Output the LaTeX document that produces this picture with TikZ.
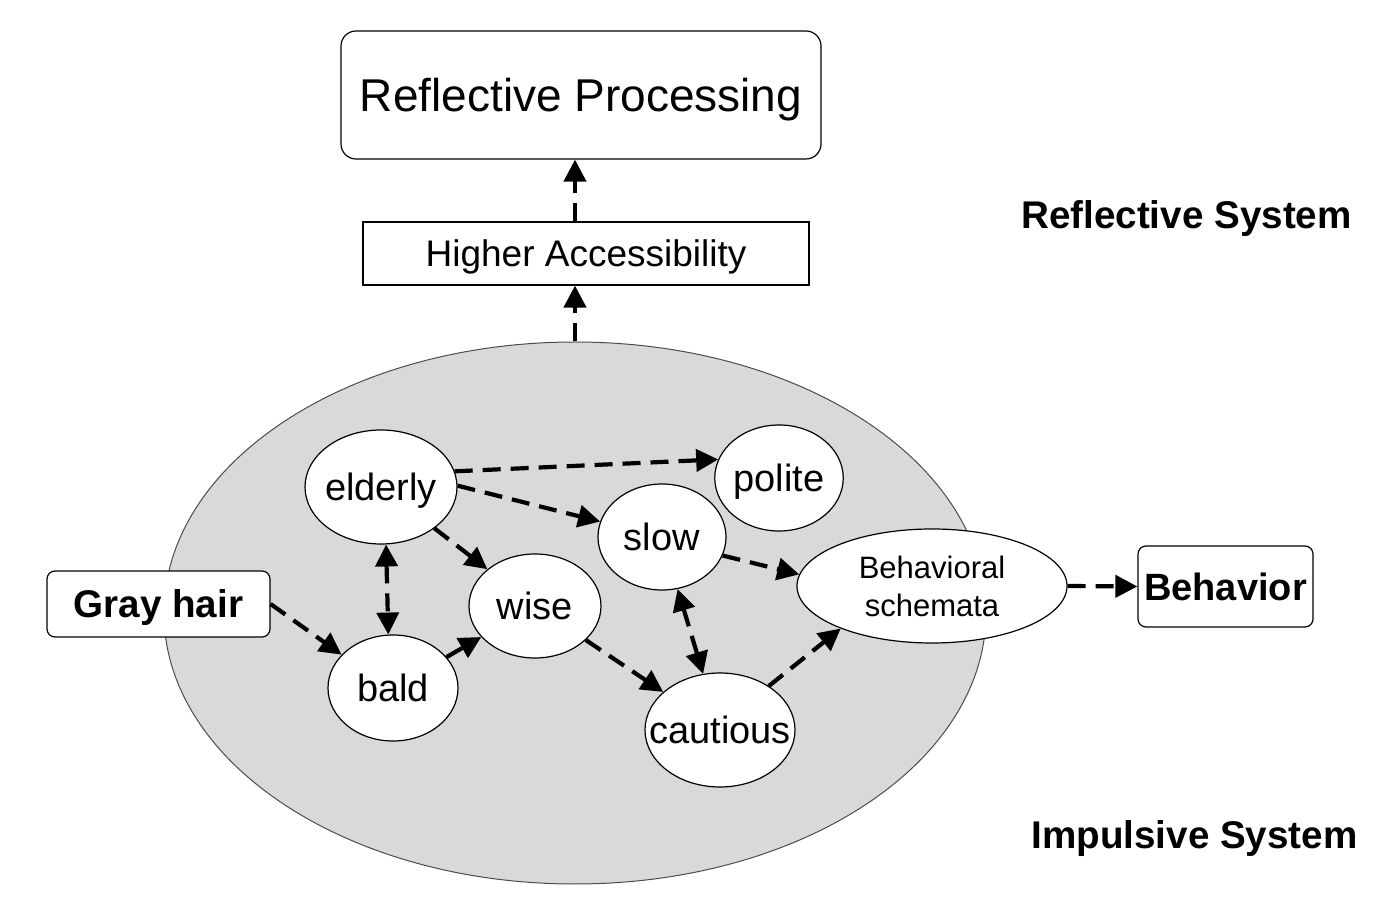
\documentclass[tikz,border=0pt]{standalone}
\usepackage{fontspec}
\setmainfont{Liberation Sans}
\usetikzlibrary{shapes.geometric,arrows.meta,calc}
\definecolor{bggray}{RGB}{217,217,217}
\tikzset{
  oval/.style={ellipse, draw=black, line width=0.6pt, fill=white, inner sep=0pt,
    font=\fontsize{19}{22}\selectfont, text height=13.7pt, text depth=0pt},
  rbox/.style={draw=black, line width=0.6pt, fill=white, inner sep=0pt},
  link/.style={line width=2.1pt, dash pattern=on 9pt off 5pt,
    -{Triangle[length=11pt,width=11pt]}},
  blink/.style={line width=2.1pt, dash pattern=on 9pt off 5pt,
    {Triangle[length=11pt,width=11pt]}-{Triangle[length=11pt,width=11pt]}},
  syslabel/.style={font=\fontsize{19.3}{22}\selectfont\bfseries, text height=13.9pt, text depth=0pt}
}
\begin{document}
\begin{tikzpicture}[x=0.5pt,y=-0.5pt]
\useasboundingbox (0,0) rectangle (1382,908);
% big impulsive ellipse
\node[ellipse, draw=black!70, line width=0.5pt, fill=bggray, minimum width=411pt, minimum height=271pt, inner sep=0pt] (imp) at (575,613) {};
% top boxes
\node[rbox, rounded corners=7.5pt, minimum width=240pt, minimum height=64pt, font=\fontsize{23}{27}\selectfont, text height=16.5pt, text depth=0pt] (rp) at (581,95) {Reflective Processing};
\node[rbox, minimum width=223pt, minimum height=31.5pt, font=\fontsize{18.5}{22}\selectfont, text height=13.3pt, text depth=0pt] (ha) at (586,253.5) {Higher Accessibility};
% side labels
\node[syslabel] (rs) at (1186.5,215) {Reflective System};
\node[syslabel] (is) at (1194.5,835) {Impulsive System};
% boxes
\node[rbox, rounded corners=4pt, minimum width=111.5pt, minimum height=33pt, font=\fontsize{19.3}{22}\selectfont\bfseries, text height=13.9pt, text depth=0pt] (gray) at (158.5,604) {Gray hair};
\node[rbox, rounded corners=4pt, minimum width=87.5pt, minimum height=40.5pt, font=\fontsize{19}{22}\selectfont\bfseries, text height=13.7pt, text depth=0pt] (beh) at (1225.5,586.5) {Behavior};
% concept ellipses
\node[oval, minimum width=76pt, minimum height=57pt, inner xsep=-3pt] (elderly) at (381,487) {elderly};
\node[oval, minimum width=64pt, minimum height=53pt] (polite) at (779,478) {polite};
\node[oval, minimum width=64pt, minimum height=53pt] (slow) at (662,537) {slow};
\node[oval, minimum width=66pt, minimum height=52pt] (wise) at (535,606) {wise};
\node[oval, minimum width=65pt, minimum height=53pt] (bald) at (393,688) {bald};
\node[oval, minimum width=75pt, minimum height=57pt, inner xsep=-15pt] (cautious) at (720,730) {cautious};
\node[ellipse, draw=black, line width=0.6pt, fill=white, inner sep=0pt, minimum width=135pt, minimum height=57pt, align=center, font=\fontsize{15.5}{19}\selectfont] (bs) at (932,586) {Behavioral\\schemata};
% connectors
\draw[link] (imp.north) -- (imp.north |- ha.south);
\draw[link] (ha.north -| imp.north) -- (rp.south -| imp.north);
\draw[link] (elderly.12) -- (polite.163);
\draw[link] (elderly.1) -- (slow.166);
\draw[link] (elderly) -- (wise);
\draw[blink] (elderly.-85) -- (bald.95);
\draw[link] (gray.east) -- (bald.147);
\draw[link] (bald) -- (wise);
\draw[link] (wise) -- (cautious);
\draw[blink] (slow) -- (cautious);
\draw[link] (slow.-17) -- (bs.175);
\draw[link] (cautious.42) -- (bs.205);
\draw[link] (bs.east) -- (beh.west);
\end{tikzpicture}
\end{document}
